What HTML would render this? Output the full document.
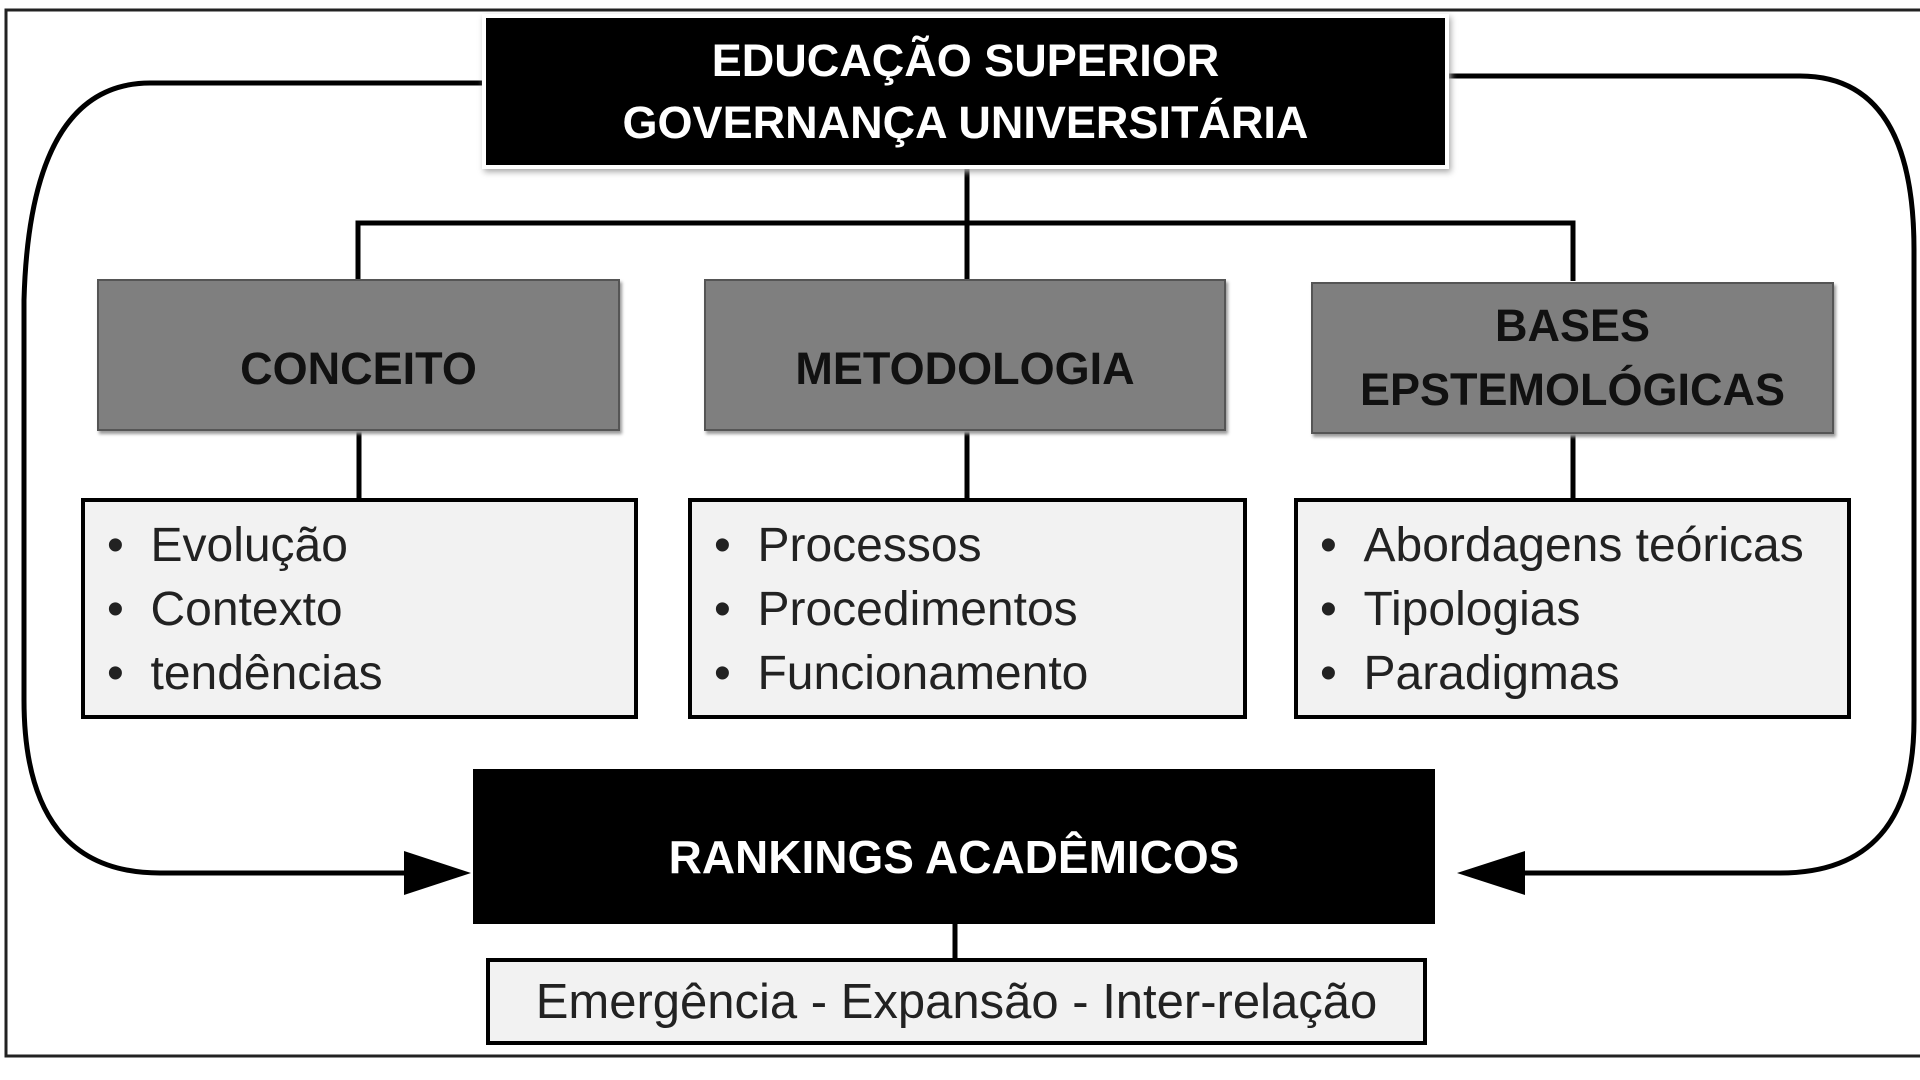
<!DOCTYPE html>
<html><head><meta charset="utf-8"><style>
body{margin:0;width:1920px;height:1080px;background:#fff;overflow:hidden;position:relative;font-family:"Liberation Sans",sans-serif}
.b{position:absolute;box-sizing:border-box;display:flex;align-items:center;justify-content:center;text-align:center}
.blk{background:#000;color:#fff;font-weight:bold;font-size:45px;line-height:62px}
.gr{background:#7f7f7f;border:2px solid #555;color:#111;font-weight:bold;font-size:45px;line-height:64px;box-shadow:2px 3px 3px #999}
.ls{background:#f2f2f2;border:4px solid #000;font-size:48px;justify-content:flex-start;align-items:flex-start;text-align:left;padding:12px 0 0 22px;line-height:64px;color:#222;white-space:nowrap}
</style></head><body>
<svg width="1920" height="1080" style="position:absolute;left:0;top:0">
<rect x="6" y="10" width="1920" height="1046" fill="none" stroke="#222" stroke-width="3"/>
<g fill="none" stroke="#000" stroke-width="5">
<path d="M486 83 H150 Q30 83 24 300 V700 Q24 873 160 873 H410"/>
<path d="M1445 76 H1800 Q1914 76 1914 250 V720 Q1914 873 1780 873 H1520"/>
<path d="M967 165 V279 M358 279 V223 H1573 V281"/>
<path d="M359 431 V498 M967 431 V498 M1573 434 V498 M955 924 V958"/>
</g>
<polygon points="471,873 404,851 404,895" fill="#000"/>
<polygon points="1457,873 1525,851 1525,895" fill="#000"/>
</svg>
<div class="b blk" style="left:486px;top:18px;width:959px;height:147px;box-shadow:0 0 0 4px #fff,2px 3px 6px 4px #aaa">EDUCAÇÃO SUPERIOR<br>GOVERNANÇA UNIVERSITÁRIA</div>
<div class="b gr" style="left:97px;top:279px;width:523px;height:152px;padding-top:28px">CONCEITO</div>
<div class="b gr" style="left:704px;top:279px;width:522px;height:152px;padding-top:28px">METODOLOGIA</div>
<div class="b gr" style="left:1311px;top:282px;width:523px;height:152px">BASES<br>EPSTEMOLÓGICAS</div>
<div class="b ls" style="left:81px;top:498px;width:557px;height:221px">•&nbsp;&nbsp;Evolução<br>•&nbsp;&nbsp;Contexto<br>•&nbsp;&nbsp;tendências</div>
<div class="b ls" style="left:688px;top:498px;width:559px;height:221px">•&nbsp;&nbsp;Processos<br>•&nbsp;&nbsp;Procedimentos<br>•&nbsp;&nbsp;Funcionamento</div>
<div class="b ls" style="left:1294px;top:498px;width:557px;height:221px">•&nbsp;&nbsp;Abordagens teóricas<br>•&nbsp;&nbsp;Tipologias<br>•&nbsp;&nbsp;Paradigmas</div>
<div class="b blk" style="left:473px;top:769px;width:962px;height:155px;padding-top:20px;font-size:46px">RANKINGS ACADÊMICOS</div>
<div class="b" style="left:486px;top:958px;width:941px;height:87px;background:#f2f2f2;border:4px solid #000;font-size:49px;color:#222;white-space:nowrap">Emergência - Expansão - Inter-relação</div>
</body></html>
